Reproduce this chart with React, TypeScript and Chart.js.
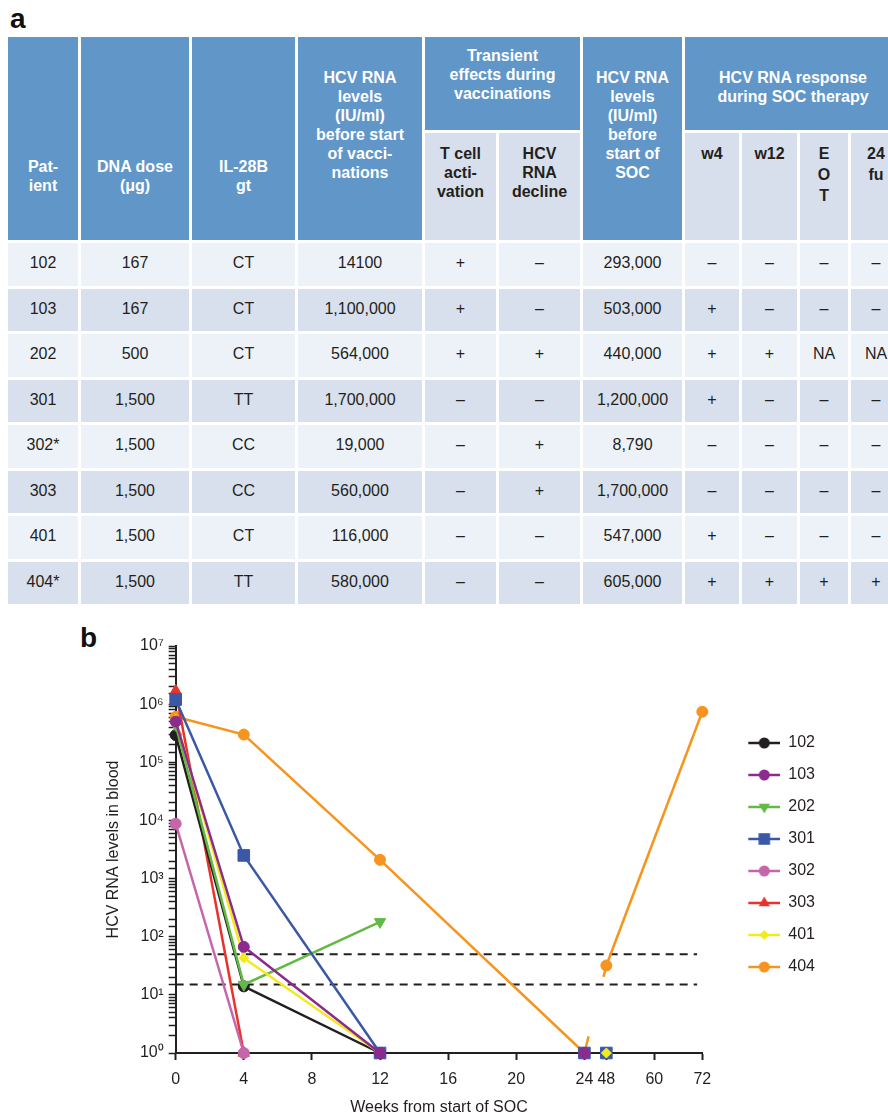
import React, { useEffect, useRef } from 'react';
import { Chart, registerables, LinearScale } from 'chart.js';

Chart.register(...registerables);

const FONT = "'Liberation Sans', Arial, Helvetica, sans-serif";
const INK = '#231f20';

// ---------- Panel a: table ----------
const PATIENT_IDS = ['102', '103', '202', '301', '302*', '303', '401', '404*'];
const DNA_DOSE = ['167', '167', '500', '1,500', '1,500', '1,500', '1,500', '1,500'];
const IL28B_GT = ['CT', 'CT', 'CT', 'TT', 'CC', 'CC', 'CT', 'TT'];
const RNA_BEFORE_VACC = ['14100', '1,100,000', '564,000', '1,700,000', '19,000', '560,000', '116,000', '580,000'];
const T_CELL_ACTIVATION = ['+', '+', '+', '–', '–', '–', '–', '–'];
const RNA_DECLINE = ['–', '–', '+', '–', '+', '+', '–', '–'];
const RNA_BEFORE_SOC = ['293,000', '503,000', '440,000', '1,200,000', '8,790', '1,700,000', '547,000', '605,000'];
const RESP_W4 = ['–', '+', '+', '+', '–', '–', '+', '+'];
const RESP_W12 = ['–', '–', '+', '–', '–', '–', '–', '+'];
const RESP_EOT = ['–', '–', 'NA', '–', '–', '–', '–', '+'];
const RESP_FU24 = ['–', '–', 'NA', '–', '–', '–', '–', '+'];

// ---------- Panel b: chart ----------
const PATIENTS = ['102', '103', '202', '301', '302', '303', '401', '404'];
const P102_WEEKS = [0, 4, 12];
const P102_RNA = [293000, 14, 1];
const P103_WEEKS = [0, 4, 12, 24];
const P103_RNA = [503000, 67, 1, 1];
const P202_WEEKS = [0, 4, 12];
const P202_RNA = [440000, 15, 180];
const P301_WEEKS = [0, 4, 12, 24, 48];
const P301_RNA = [1200000, 2500, 1, 1, 1];
const P302_WEEKS = [0, 4];
const P302_RNA = [8790, 1];
const P303_WEEKS = [0, 4];
const P303_RNA = [1700000, 1];
const P401_WEEKS = [0, 4, 12, 48];
const P401_RNA = [547000, 43, 1, 1];
const P404_WEEKS = [0, 4, 12, 24, 48, 72];
const P404_RNA = [605000, 300000, 2100, 1, 32, 740000];
const LIMIT_VALUES = [50, 15];
const LIMIT_WEEKS = [0, 70.7];
const X_TICKS = [0, 4, 8, 12, 16, 20, 24, 48, 60, 72];

const SERIES_WEEKS = [P102_WEEKS, P103_WEEKS, P202_WEEKS, P301_WEEKS, P302_WEEKS, P303_WEEKS, P401_WEEKS, P404_WEEKS];
const SERIES_RNA = [P102_RNA, P103_RNA, P202_RNA, P301_RNA, P302_RNA, P303_RNA, P401_RNA, P404_RNA];

const SERIES_COLORS = ['#231f20', '#8c2a8e', '#63b946', '#3b58a7', '#c565aa', '#e8322b', '#f3ea1d', '#f7941e'];
const SERIES_MARKERS = [
  { style: 'circle', r: 5.5, rot: 0 },
  { style: 'circle', r: 5.5, rot: 0 },
  { style: 'triangle', r: 6.5, rot: 180 },
  { style: 'rect', r: 8.2, rot: 0 },
  { style: 'circle', r: 5.5, rot: 0 },
  { style: 'triangle', r: 6.5, rot: 0 },
  { style: 'rectRot', r: 5, rot: 0 },
  { style: 'circle', r: 5.5, rot: 0 },
];
const SERIES_ORDER = [4, 0, 3, 2, 5, 6, 1, 7];

const SUP = ['⁰', '¹', '²', '³', '⁴', '⁵', '⁶', '⁷', '⁸', '⁹'];

// broken week axis: joints (weeks) and their fraction of the axis length
const JOINT_WEEKS = [0, 24, 48, 72];
const JOINT_FRAC = [0, 0.7761, 0.8178, 1];

function weekToFraction(w: number) {
  for (let i = 1; i < JOINT_WEEKS.length; i++) {
    if (w <= JOINT_WEEKS[i] || i === JOINT_WEEKS.length - 1) {
      const t = (w - JOINT_WEEKS[i - 1]) / (JOINT_WEEKS[i] - JOINT_WEEKS[i - 1]);
      return JOINT_FRAC[i - 1] + t * (JOINT_FRAC[i] - JOINT_FRAC[i - 1]);
    }
  }
  return 0;
}
function fractionToWeek(f: number) {
  for (let i = 1; i < JOINT_FRAC.length; i++) {
    if (f <= JOINT_FRAC[i] || i === JOINT_FRAC.length - 1) {
      const t = (f - JOINT_FRAC[i - 1]) / (JOINT_FRAC[i] - JOINT_FRAC[i - 1]);
      return JOINT_WEEKS[i - 1] + t * (JOINT_WEEKS[i] - JOINT_WEEKS[i - 1]);
    }
  }
  return 0;
}

class BrokenWeekScale extends LinearScale {
  static id = 'brokenWeek';
  static defaults = {};
  getPixelForValue(value: any) {
    if (value === null || value === undefined || Number.isNaN(+value)) return NaN;
    return this.getPixelForDecimal(weekToFraction(+value));
  }
  getValueForPixel(pixel: number) {
    return fractionToWeek(this.getDecimalForPixel(pixel));
  }
}
Chart.register(BrokenWeekScale as any);

function drawMarker(g: CanvasRenderingContext2D, m: any, cx: number, cy: number) {
  g.beginPath();
  if (m.style === 'circle') {
    g.arc(cx, cy, m.r, 0, Math.PI * 2);
  } else if (m.style === 'rect') {
    const s = m.r * Math.SQRT1_2;
    g.rect(cx - s, cy - s, 2 * s, 2 * s);
  } else if (m.style === 'rectRot') {
    g.moveTo(cx - m.r, cy);
    g.lineTo(cx, cy - m.r);
    g.lineTo(cx + m.r, cy);
    g.lineTo(cx, cy + m.r);
    g.closePath();
  } else if (m.style === 'triangle') {
    let a = (m.rot * Math.PI) / 180;
    g.moveTo(cx + Math.sin(a) * m.r, cy - Math.cos(a) * m.r);
    for (let k = 0; k < 2; k++) {
      a += (2 * Math.PI) / 3;
      g.lineTo(cx + Math.sin(a) * m.r, cy - Math.cos(a) * m.r);
    }
    g.closePath();
  }
  g.fill();
}

const ICON_W = 62;
function makeLegendIcon(color: string, marker: any) {
  const c = document.createElement('canvas');
  c.width = ICON_W;
  c.height = 16;
  const g = c.getContext('2d') as CanvasRenderingContext2D;
  g.strokeStyle = color;
  g.lineWidth = 2.5;
  g.beginPath();
  g.moveTo(30, 8);
  g.lineTo(62, 8);
  g.stroke();
  g.fillStyle = color;
  drawMarker(g, marker, 46, 8);
  return c;
}

const CH_LEFT = 92;
const CH_TOP = 628;
const CH_W = 796;
const CH_H = 484;

function RnaChart() {
  const ref = useRef<HTMLCanvasElement>(null);
  useEffect(() => {
    const canvas = ref.current;
    if (!canvas) return;
    const icons = PATIENTS.map((_, i) => makeLegendIcon(SERIES_COLORS[i], SERIES_MARKERS[i]));

    const patientSets = PATIENTS.map((label, i) => ({
      label,
      data: SERIES_WEEKS[i].map((w, k) => ({ x: w, y: SERIES_RNA[i][k] })),
      borderColor: SERIES_COLORS[i],
      backgroundColor: SERIES_COLORS[i],
      pointBackgroundColor: SERIES_COLORS[i],
      pointBorderColor: SERIES_COLORS[i],
      borderWidth: 2.5,
      pointStyle: SERIES_MARKERS[i].style,
      pointRadius: SERIES_MARKERS[i].r,
      pointRotation: SERIES_MARKERS[i].rot,
      pointBorderWidth: 1,
      order: SERIES_ORDER[i],
      clip: false,
      tension: 0,
      segment: {
        borderColor: (ctx: any) =>
          ctx.p0.parsed.y === 1 && ctx.p1.parsed.y === 1 ? 'rgba(0,0,0,0)' : undefined,
        borderDash: (ctx: any) => {
          if (ctx.p0.parsed.x <= 24 && ctx.p1.parsed.x >= 48) {
            const L = Math.hypot(ctx.p1.x - ctx.p0.x, ctx.p1.y - ctx.p0.y);
            return [L * 0.19, L * 0.68, L * 0.13];
          }
          return undefined;
        },
      },
    }));

    const limitSets = LIMIT_VALUES.map((v, i) => ({
      label: 'limit' + i,
      data: LIMIT_WEEKS.map((w) => ({ x: w, y: v })),
      borderColor: INK,
      borderWidth: 2,
      borderDash: [8, 6],
      pointRadius: 0,
      order: 20,
      clip: false,
    }));

    const chart = new Chart(canvas, {
      type: 'line',
      data: { datasets: [...patientSets, ...limitSets] as any },
      options: {
        animation: false,
        responsive: false,
        events: [],
        font: { family: FONT },
        layout: { padding: { top: 18, right: 63, bottom: 0, left: 0 } },
        plugins: {
          tooltip: { enabled: false },
          legend: {
            position: 'right',
            fullSize: false,
            align: 'center',
            title: { display: true, text: '', padding: { top: 10, bottom: 0 }, font: { size: 1, lineHeight: 1 } },
            labels: {
              usePointStyle: true,
              pointStyleWidth: ICON_W,
              padding: 16,
              color: INK,
              font: { family: FONT, size: 16 },
              generateLabels: (ch: any) => {
                const base = (Chart.defaults.plugins.legend.labels as any).generateLabels(ch);
                return base
                  .filter((it: any) => it.datasetIndex < PATIENTS.length)
                  .sort((a: any, b: any) => a.datasetIndex - b.datasetIndex)
                  .map((it: any) => ({ ...it, pointStyle: icons[it.datasetIndex], rotation: 0, hidden: false, fontColor: INK }));
              },
            },
          },
        },
        scales: {
          x: {
            type: 'brokenWeek' as any,
            min: 0,
            max: 72,
            afterBuildTicks: (s: any) => {
              s.ticks = X_TICKS.map((v) => ({ value: v }));
            },
            ticks: {
              autoSkip: false,
              maxRotation: 0,
              padding: 12,
              color: INK,
              font: { family: FONT, size: 16, lineHeight: 1 },
              callback: (v: any) => String(v),
            },
            grid: { display: true, drawOnChartArea: false, drawTicks: true, tickLength: 7, tickWidth: 2, tickColor: INK },
            border: { display: true, color: INK, width: 2 },
            title: {
              display: true,
              text: 'Weeks from start of SOC',
              color: INK,
              font: { family: FONT, size: 16, lineHeight: 1 },
              padding: { top: 0, bottom: -4 },
            },
          },
          y: {
            type: 'logarithmic',
            min: 1,
            max: 10000000,
            ticks: {
              autoSkip: false,
              padding: 5,
              color: INK,
              font: { family: FONT, size: 16, lineHeight: 1 },
              callback: (v: any) => {
                const e = Math.log10(Number(v));
                const r = Math.round(e);
                return Math.abs(e - r) < 1e-6 ? '10' + SUP[r] : '';
              },
            },
            grid: { display: true, drawOnChartArea: false, drawTicks: true, tickLength: 7, tickWidth: 1.5, tickColor: INK },
            border: { display: true, color: INK, width: 2 },
            title: {
              display: true,
              text: 'HCV RNA levels in blood',
              color: INK,
              font: { family: FONT, size: 16, lineHeight: 1 },
              padding: { top: 14, bottom: 12 },
            },
          },
        },
      } as any,
    });
    return () => chart.destroy();
  }, []);
  return (
    <div style={{ position: 'absolute', left: CH_LEFT, top: CH_TOP, width: CH_W, height: CH_H }}>
      <canvas ref={ref} width={CH_W} height={CH_H} style={{ display: 'block', width: CH_W, height: CH_H }} />
    </div>
  );
}

const HEAD_BLUE = '#6196c9';
const SUB_BG = '#d7dfec';
const ROW_LIGHT = '#edf2f8';
const ROW_DARK = '#d8e0ed';
const COL_WIDTHS = [70, 108, 103, 124, 71, 81, 99, 54, 55, 48, 50];

function blue(pt: number): React.CSSProperties {
  return {
    background: HEAD_BLUE, color: '#fff', fontWeight: 700, fontSize: 16, lineHeight: '19px',
    verticalAlign: 'top', textAlign: 'center', padding: 0, paddingTop: pt,
  };
}
function sub(lh = 19): React.CSSProperties {
  return {
    background: SUB_BG, color: INK, fontWeight: 700, fontSize: 16, lineHeight: lh + 'px',
    verticalAlign: 'top', textAlign: 'center', padding: 0, paddingTop: 143.5 - 133 - (lh - 19) / 2,
  };
}

function DataTable() {
  const columns = [PATIENT_IDS, DNA_DOSE, IL28B_GT, RNA_BEFORE_VACC, T_CELL_ACTIVATION, RNA_DECLINE, RNA_BEFORE_SOC, RESP_W4, RESP_W12, RESP_EOT, RESP_FU24];
  return (
    <div style={{ position: 'absolute', left: 8, top: 37, width: 880, height: 572, overflow: 'hidden' }}>
      <table style={{ borderCollapse: 'separate', borderSpacing: 3, tableLayout: 'fixed', width: 899, margin: '-3px 0 0 -3px', fontFamily: FONT }}>
        <colgroup>
          {COL_WIDTHS.map((w, i) => <col key={i} style={{ width: w }} />)}
        </colgroup>
        <thead>
          <tr style={{ height: 93 }}>
            <th rowSpan={2} style={blue(119.5)}>Pat-<br />ient</th>
            <th rowSpan={2} style={blue(119.5)}>DNA dose<br />(μg)</th>
            <th rowSpan={2} style={blue(119.5)}>IL-28B<br />gt</th>
            <th rowSpan={2} style={blue(30.5)}>HCV RNA<br />levels<br />(IU/ml)<br />before start<br />of vacci-<br />nations</th>
            <th colSpan={2} style={blue(8.5)}>Transient<br />effects during<br />vaccinations</th>
            <th rowSpan={2} style={blue(30.5)}>HCV RNA<br />levels<br />(IU/ml)<br />before<br />start of<br />SOC</th>
            <th colSpan={4} style={blue(30.5)}>HCV RNA response<br />during SOC therapy</th>
          </tr>
          <tr style={{ height: 107 }}>
            <th style={sub()}>T cell<br />acti-<br />vation</th>
            <th style={sub()}>HCV<br />RNA<br />decline</th>
            <th style={sub()}>w4</th>
            <th style={sub()}>w12</th>
            <th style={sub(21)}>E<br />O<br />T</th>
            <th style={sub(21)}>24<br />fu</th>
          </tr>
        </thead>
        <tbody>
          {PATIENT_IDS.map((id, r) => (
            <tr key={id} style={{ height: 42.5 }}>
              {columns.map((col, c) => (
                <td key={c} style={{
                  background: r % 2 === 0 ? ROW_LIGHT : ROW_DARK, color: INK, fontSize: 16,
                  textAlign: 'center', verticalAlign: 'middle', padding: 0, paddingBottom: 3, lineHeight: '19px',
                }}>{col[r]}</td>
              ))}
            </tr>
          ))}
        </tbody>
      </table>
    </div>
  );
}

export default function App() {
  return (
    <div style={{ fontFamily: FONT }}>
      <div style={{ position: 'absolute', left: 10, top: 5, fontSize: 28, lineHeight: '28px', fontWeight: 700, color: '#111' }}>a</div>
      <DataTable />
      <div style={{ position: 'absolute', left: 80, top: 624, fontSize: 28, lineHeight: '28px', fontWeight: 700, color: '#111' }}>b</div>
      <RnaChart />
    </div>
  );
}
